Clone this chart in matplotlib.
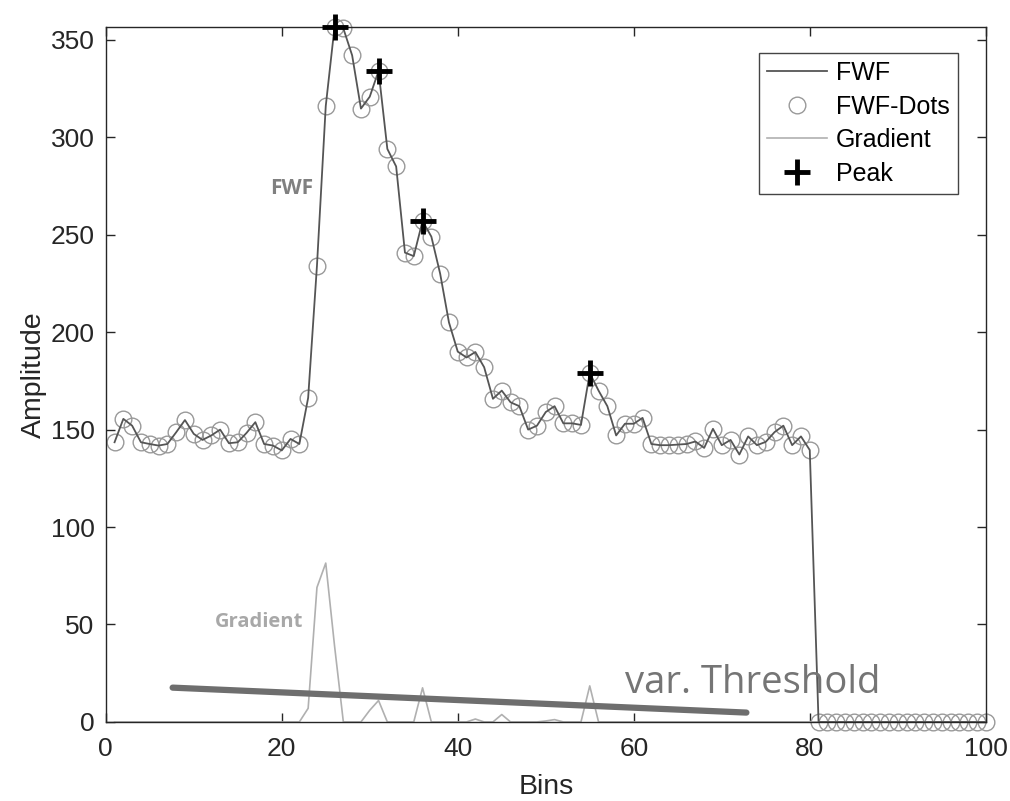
import numpy as np
import matplotlib
matplotlib.use('Agg')
import matplotlib.pyplot as plt

# bins 1..100, amplitude
bins = np.arange(1, 101)
fwf = [143.5, 155.5, 152.0, 143.5, 142.6, 141.8, 142.6, 148.6, 154.9, 147.8,
       144.7, 147.0, 150.0, 143.0, 143.5, 148.3, 153.8, 142.6, 141.8, 139.3,
       145.2, 142.6, 166.3, 234.0, 316.0, 356.6, 355.8, 342.0, 314.7, 320.8,
       334.0, 294.0, 285.0, 240.8, 239.0, 257.0, 249.0, 230.0, 205.0, 190.0,
       187.0, 189.8, 182.0, 165.8, 170.0, 164.0, 162.0, 150.0, 152.0, 159.0,
       162.0, 153.2, 153.2, 152.4, 179.0, 170.0, 162.0, 147.0, 153.0, 153.0,
       156.0, 142.6, 142.0, 142.0, 142.3, 142.6, 143.9, 140.6, 150.4, 142.0,
       144.7, 137.2, 146.5, 142.0, 143.7, 148.7, 152.0, 142.0, 146.5, 139.5] + [0.0] * 20

gradient = [0.0] * 22 + [7.0, 69.0, 81.5, 39.0, 0.0, 0.0, 0.0, 6.0, 11.0, 0.0,
                         0.0, 0.0, 0.0, 17.5, 0.0, 0.0, 0.0, 0.0, 0.0, 1.5,
                         0.0, 0.0, 3.8, 0.0, 0.0, 0.0, 0.0, 0.5, 1.2, 0.0,
                         0.0, 0.0, 18.5] + [0.0] * 45

peak_bins = [26, 31, 36, 55]
peak_vals = [356.6, 334.0, 257.0, 179.0]

# hand-drawn variable threshold (start / end)
thr_x = [7.6, 72.8]
thr_y = [17.6, 4.8]

plt.rcParams['font.family'] = ['Liberation Sans', 'DejaVu Sans']

fig = plt.figure(figsize=(10.1, 8.01), dpi=100)
ax = fig.add_axes([0.1047, 0.0987, 0.8713, 0.8677])

ax.plot(bins, fwf, color='#555555', lw=1.3, label='FWF', zorder=3)
ax.plot(bins, fwf, ls='none', marker='o', ms=12, mfc='none', mec='#999999',
        mew=1.0, label='FWF-Dots', clip_on=False, zorder=2)
ax.plot(bins, gradient, color='#b0b0b0', lw=1.2, label='Gradient', zorder=2)
ax.plot(peak_bins, peak_vals, ls='none', marker='+', ms=19, mew=3.5,
        color='black', label='Peak', clip_on=False, zorder=5)

ax.plot(thr_x, thr_y, color='#6e6e6e', lw=4.5, solid_capstyle='round', zorder=4)

ax.text(18.7, 271, 'FWF', family='Open Sans', fontweight='bold', fontsize=15,
        color='#808080')
ax.text(12.4, 48.7, 'Gradient', family='Open Sans', fontweight='bold', fontsize=14.5,
        color='#a8a8a8')
ax.text(59.0, 15.0, 'var. Threshold', family='Open Sans', fontsize=27.5,
        color='#757575')

ax.set_xlim(0, 100)
ax.set_ylim(0, max(fwf))
ax.set_xticks(np.arange(0, 101, 20))
ax.set_yticks(np.arange(0, 351, 50))
ax.tick_params(direction='in', length=6.5, width=1, top=True, right=True,
               labelsize=19, colors='#262626')
ax.tick_params(axis='x', pad=11)
ax.tick_params(axis='y', pad=8)
for s in ax.spines.values():
    s.set_color('#262626')
    s.set_linewidth(1.0)

ax.set_xlabel('Bins', fontsize=20.5, color='#262626', labelpad=9)
ax.set_ylabel('Amplitude', fontsize=20.5, color='#262626', labelpad=3)

leg = ax.legend(loc='upper right', bbox_to_anchor=(0.9685, 0.9626), borderaxespad=0,
                fontsize=18, handlelength=2.4, labelspacing=0.38, fancybox=False,
                edgecolor='#444444', framealpha=1, borderpad=0.33, handletextpad=0.35)
leg.get_frame().set_linewidth(1.0)

fig.savefig('out.png', dpi=100)
